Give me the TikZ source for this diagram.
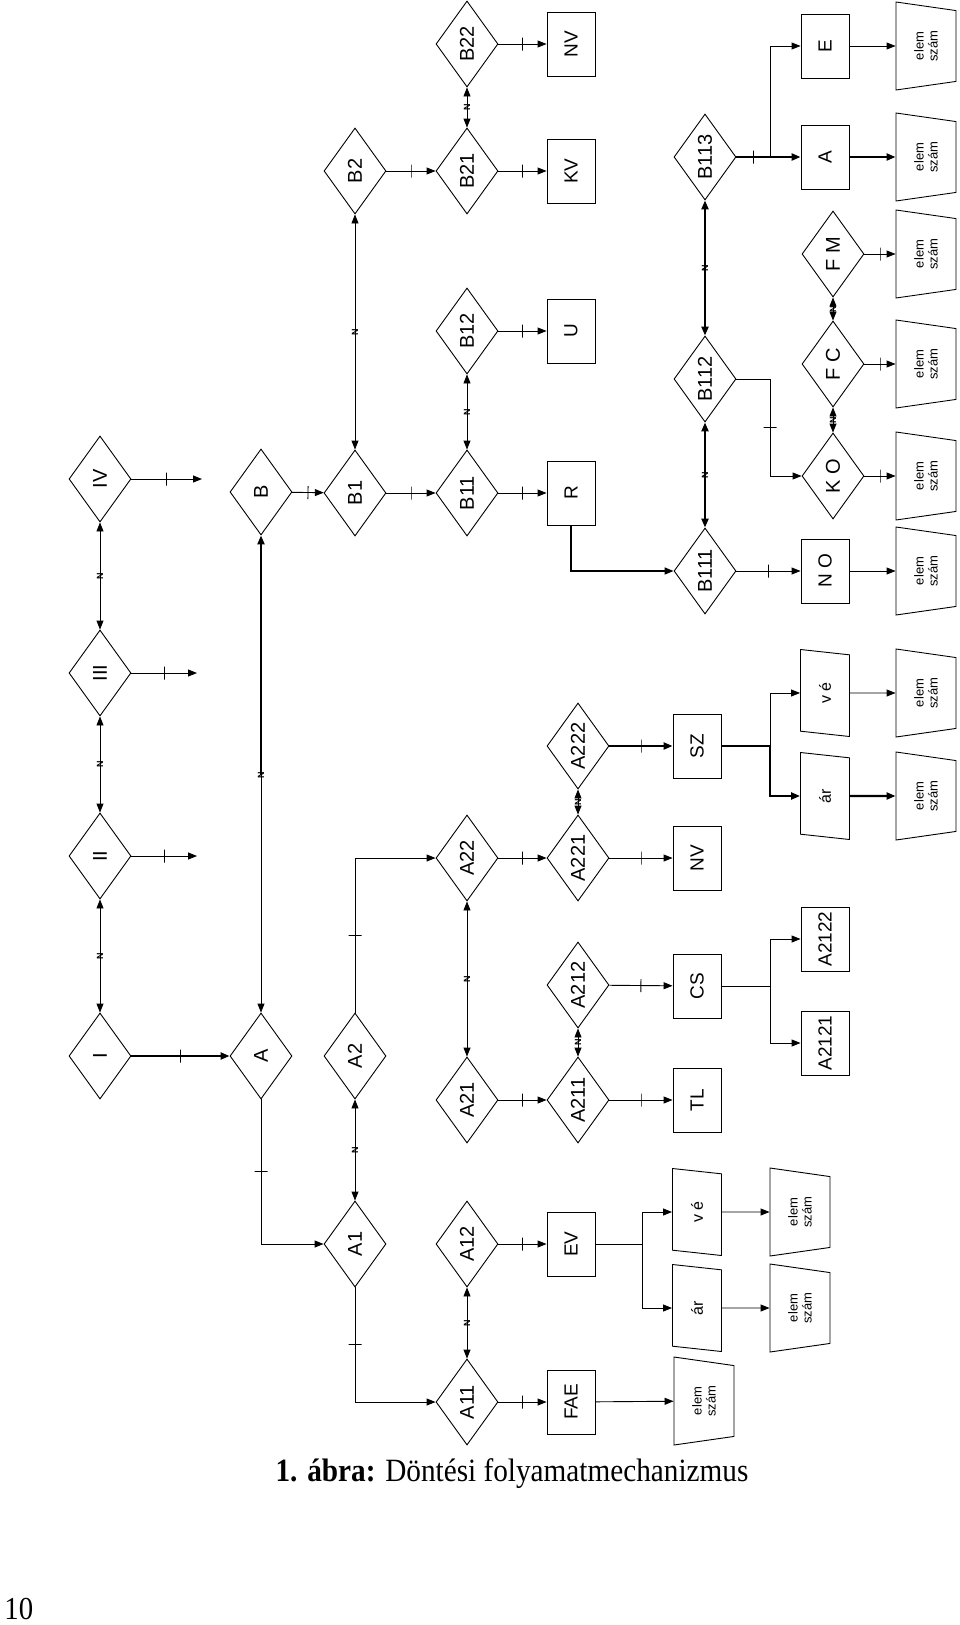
\documentclass[tikz,border=0pt]{standalone}
\usepackage{fontspec}
\setmainfont{Liberation Serif}
\setsansfont{Liberation Sans}
\usetikzlibrary{arrows.meta,shapes.geometric}
\newcommand{\rt}[1]{\rotatebox{90}{#1}}

\begin{document}
\begin{tikzpicture}[
  x=1pt, y=-1pt, >={Triangle[length=9pt,width=7pt]},
  line width=0.9pt,
  dec/.style={draw, diamond, aspect=0.72, minimum width=62pt, minimum height=86pt, inner sep=0pt, font=\sffamily\fontsize{20}{22}\selectfont},
  box/.style={draw, rectangle, minimum width=48pt, minimum height=64pt, inner sep=0pt, font=\sffamily\fontsize{19}{21}\selectfont},
  ez/.style={draw, trapezium, trapezium left angle=110, trapezium right angle=110, trapezium stretches body=true, minimum width=88pt, minimum height=60pt, inner sep=0pt, rotate=90, align=center, font=\sffamily\fontsize{13}{14}\selectfont},
  prl/.style={draw, trapezium, trapezium left angle=66, trapezium right angle=114, trapezium stretches body=true, minimum width=87pt, minimum height=49pt, inner sep=0pt, rotate=90, font=\sffamily\fontsize{16}{18}\selectfont},
  nlab/.style={inner sep=0pt, font=\sffamily\bfseries\fontsize{9}{9}\selectfont},
  tk/.style={draw, sloped, line width=0.9pt, inner sep=0pt, minimum width=0pt, minimum height=13pt},
  thk/.style={line width=2.2pt},
  every edge/.style={draw, ->}
]
\useasboundingbox (0,0) rectangle (960,1625);

% left column
\node[dec] (I)   at (100,1056) {\rt{I}};
\node[dec] (II)  at (100,856)  {\rt{II}};
\node[dec] (III) at (100,673)  {\rt{III}};
\node[dec] (IV)  at (100,479)  {\rt{IV}};
\coordinate (oII)  at (197,856);
\coordinate (oIII) at (197,673);
\coordinate (oIV)  at (202,479);

\node[dec] (A) at (261,1056) {\rt{A}};
\node[dec] (B) at (261,492)  {\rt{B}};
\node[nlab] (nBA) at (261,775) {\rt{N}};

\node[dec] (A1) at (355,1244) {\rt{A1}};
\node[dec] (A2) at (355,1056) {\rt{A2}};
\node[dec] (B1) at (355,493)  {\rt{B1}};
\node[dec] (B2) at (355,171)  {\rt{B2}};

\node[dec] (A11) at (467,1402) {\rt{A11}};
\node[dec] (A12) at (467,1244) {\rt{A12}};
\node[dec] (A21) at (467,1100) {\rt{A21}};
\node[dec] (A22) at (467,858)  {\rt{A22}};
\node[dec] (B11) at (467,493)  {\rt{B11}};
\node[dec] (B12) at (467,331)  {\rt{B12}};
\node[dec] (B21) at (467,171)  {\rt{B21}};
\node[dec] (B22) at (467,44)   {\rt{B22}};

\node[dec] (A211) at (578,1100) {\rt{A211}};
\node[dec] (A212) at (578,985)  {\rt{A212}};
\node[dec] (A221) at (578,858)  {\rt{A221}};
\node[dec] (A222) at (578,746)  {\rt{A222}};

\node[box] (FAE) at (571,1402) {\rt{FAE}};
\node[box] (EV)  at (571,1244) {\rt{EV}};
\node[box] (R)   at (571,493)  {\rt{R}};
\node[box] (U)   at (571,331)  {\rt{U}};
\node[box] (KV)  at (571,171)  {\rt{KV}};
\node[box] (NV)  at (571,44)   {\rt{NV}};

\node[box] (TL)  at (697,1100) {\rt{TL}};
\node[box] (CS)  at (697,986)  {\rt{CS}};
\node[box] (NVa) at (697,858)  {\rt{NV}};
\node[box] (SZ)  at (697,746)  {\rt{SZ}};

\node[ez]  (eFAE)  at (704,1401) {elem\\szám};
\node[prl] (arEV)  at (697,1308) {ár};
\node[prl] (veEV)  at (697,1212) {v é};
\node[ez]  (earEV) at (800,1308) {elem\\szám};
\node[ez]  (eveEV) at (800,1212) {elem\\szám};
\coordinate (jEV) at (642,1244);

\node[box] (A2121) at (825,1043) {\rt{A2121}};
\node[box] (A2122) at (825,939)  {\rt{A2122}};
\coordinate (jCS) at (770,986);

\node[prl] (arSZ)  at (825,796) {ár};
\node[prl] (veSZ)  at (825,693) {v é};
\node[ez]  (earSZ) at (926,796) {elem\\szám};
\node[ez]  (eveSZ) at (926,693) {elem\\szám};
\coordinate (jSZ) at (770,746);

% right part of B
\node[dec] (B111) at (705,571) {\rt{B111}};
\node[dec] (B112) at (705,379) {\rt{B112}};
\node[dec] (B113) at (705,157) {\rt{B113}};
\node[box] (NO)   at (825,571) {\rt{N O}};
\node[dec] (KO)   at (833,476) {\rt{K O}};
\node[dec] (FC)   at (833,364) {\rt{F C}};
\node[dec] (FM)   at (833,254) {\rt{F M}};
\node[box] (Abox) at (825,157) {\rt{A}};
\node[box] (E)    at (825,46)  {\rt{E}};
\node[ez] (eNO) at (926,571) {elem\\szám};
\node[ez] (eKO) at (926,476) {elem\\szám};
\node[ez] (eFC) at (926,364) {elem\\szám};
\node[ez] (eFM) at (926,254) {elem\\szám};
\node[ez] (eA)  at (926,157) {elem\\szám};
\node[ez] (eE)  at (926,46)  {elem\\szám};
\coordinate (jKO) at (770,379);
\coordinate (jA)  at (770,157);

\node[font=\fontsize{32.5}{36}\selectfont, anchor=base] (cap) at (512,1481) {\scalebox{0.9}[1]{\textbf{1. ábra:} Döntési folyamatmechanizmus}};
\node[font=\fontsize{32}{36}\selectfont, anchor=base west, inner sep=0pt] (pg) at (4,1619) {\scalebox{0.9}[1]{10}};

% I..IV
\draw (I) edge[thk] node[tk]{} (A);
\draw (I) edge[<->] node[nlab]{\rt{N}} (II);
\draw (II) edge[<->] node[nlab]{\rt{N}} (III);
\draw (III) edge[<->] node[nlab]{\rt{N}} (IV);
\draw (II) edge node[tk]{} (oII);
\draw (III) edge node[tk]{} (oIII);
\draw (IV) edge node[tk]{} (oIV);
\draw (nBA.center) edge[thk] (B);
\draw (nBA.center) edge (A);

% B branch
\draw (B) edge node[tk]{} (B1);
\draw (B1) edge node[tk]{} (B11);
\draw (B11) edge node[tk]{} (R);
\draw (B12) edge node[tk]{} (U);
\draw (B2) edge node[tk]{} (B21);
\draw (B21) edge node[tk]{} (KV);
\draw (B22) edge node[tk]{} (NV);
\draw (B1) edge[<->] node[nlab]{\rt{N}} (B2);
\draw (B11) edge[<->] node[nlab]{\rt{N}} (B12);
\draw (B21) edge[<->] node[nlab]{\rt{N}} (B22);

% A branch
\draw[->] (A) |- node[tk,pos=.25]{} (A1);
\draw[->] (A2) |- node[tk,pos=.25]{} (A22);
\draw[->] (A1) |- node[tk,pos=.25]{} (A11);
\draw (A1) edge[<->] node[nlab]{\rt{N}} (A2);
\draw (A11) edge[<->] node[nlab]{\rt{N}} (A12);
\draw (A21) edge[<->] node[nlab]{\rt{N}} (A22);
\draw (A211) edge[<->] node[nlab]{\rt{N}} (A212);
\draw (A221) edge[<->] node[nlab]{\rt{N}} (A222);
\draw (A21) edge node[tk]{} (A211);
\draw (A22) edge node[tk]{} (A221);
\draw (A211) edge node[tk]{} (TL);
\draw (A212) edge node[tk]{} (CS);
\draw (A221) edge node[tk]{} (NVa);
\draw (A222) edge[thk] node[tk]{} (SZ);
\draw (A11) edge node[tk]{} (FAE);
\draw (A12) edge node[tk]{} (EV);
\draw (FAE) edge (eFAE);
\draw (EV) -- (jEV);
\draw[->] (jEV) |- (veEV);
\draw[->] (jEV) |- (arEV);
\draw (arEV) edge (earEV);
\draw (veEV) edge (eveEV);
\draw (CS) -- (jCS);
\draw[->] (jCS) |- (A2122);
\draw[->] (jCS) |- (A2121);
\draw[thk] (SZ) -- (jSZ);
\draw[->] (jSZ) |- (veSZ);
\draw[->, thk] (jSZ) |- (arSZ);
\draw (arSZ) edge[thk] (earSZ);
\draw (veSZ) edge (eveSZ);

% B11x
\draw[->, line width=1.6pt] (R) |- (B111);
\draw (B111) edge[<->, thk] node[nlab]{\rt{N}} (B112);
\draw (B112) edge[<->, thk] node[nlab]{\rt{N}} (B113);
\draw (B111) edge node[tk]{} (NO);
\draw (NO) edge (eNO);
\draw (B112) -- (jKO);
\draw[->] (jKO) |- node[tk,pos=.25]{} (KO);
\draw (KO) edge[<->] node[nlab]{\rt{N}} (FC);
\draw (FC) edge[<->] node[nlab]{\rt{N}} (FM);
\draw (KO) edge node[tk]{} (eKO);
\draw (FC) edge node[tk]{} (eFC);
\draw (FM) edge node[tk]{} (eFM);
\draw[thk] (B113) -- node[tk]{} (jA);
\draw[->, thk] (jA) -- (Abox);
\draw[->] (jA) |- (E);
\draw (Abox) edge[thk] (eA);
\draw (E) edge (eE);
\end{tikzpicture}
\end{document}
